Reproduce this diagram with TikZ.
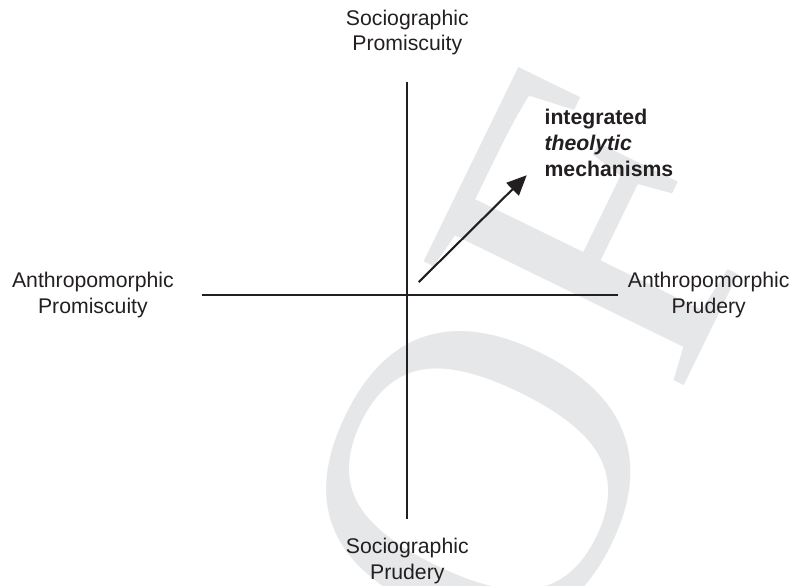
\documentclass[tikz,border=0pt]{standalone}
\usepackage{fontspec}
\setmainfont{Liberation Sans}
\newfontfamily\proofface{Liberation Serif}
\usetikzlibrary{positioning,arrows.meta}
\definecolor{ink}{HTML}{231F20}
\definecolor{proofgray}{HTML}{E6E7E8}

\begin{document}
\begin{tikzpicture}[node distance=0.5cm,
  pole/.style={inner sep=0pt, align=center, text=ink, font=\fontsize{15.1}{18.1}\selectfont},
  axis/.style={line width=1.5pt, draw=ink}]
\clip (-10.18,-7.26) rectangle (9.64,7.37);
\node[rotate=64, anchor=base east, inner sep=0pt, text=proofgray, font=\proofface\fontsize{313}{313}\selectfont] (proof) at (9.44,2.89) {PROOF};
\coordinate (top) at (0,5.33);
\coordinate (bottom) at (0,-5.59);
\coordinate (west) at (-5.14,0);
\coordinate (east) at (5.27,0);
\coordinate (start) at (0.285,0.32);
\coordinate (tip) at (2.985,2.99);
\draw[axis] (top) -- (bottom);
\draw[axis] (west) -- (east);
\draw[-{Triangle[length=5mm,width=4.4mm]}, line width=1.5pt, color=ink] (start) -- (tip);
\node[pole, above=0.66cm of top] (sp) {Sociographic\\Promiscuity};
\node[pole, below=0.49cm of bottom] (sd) {Sociographic\\Prudery};
\node[pole, left=0.69cm of west] (ap) {Anthropomorphic\\Promiscuity};
\node[pole, right=0.235cm of east] (ad) {Anthropomorphic\\Prudery};
\node[pole, align=left, font=\bfseries\fontsize{15.1}{18.3}\selectfont, right=0.44cm of tip, anchor=south west, yshift=-0.04cm] (mech) {integrated\\\textit{theolytic}\\mechanisms};
\end{tikzpicture}
\end{document}
